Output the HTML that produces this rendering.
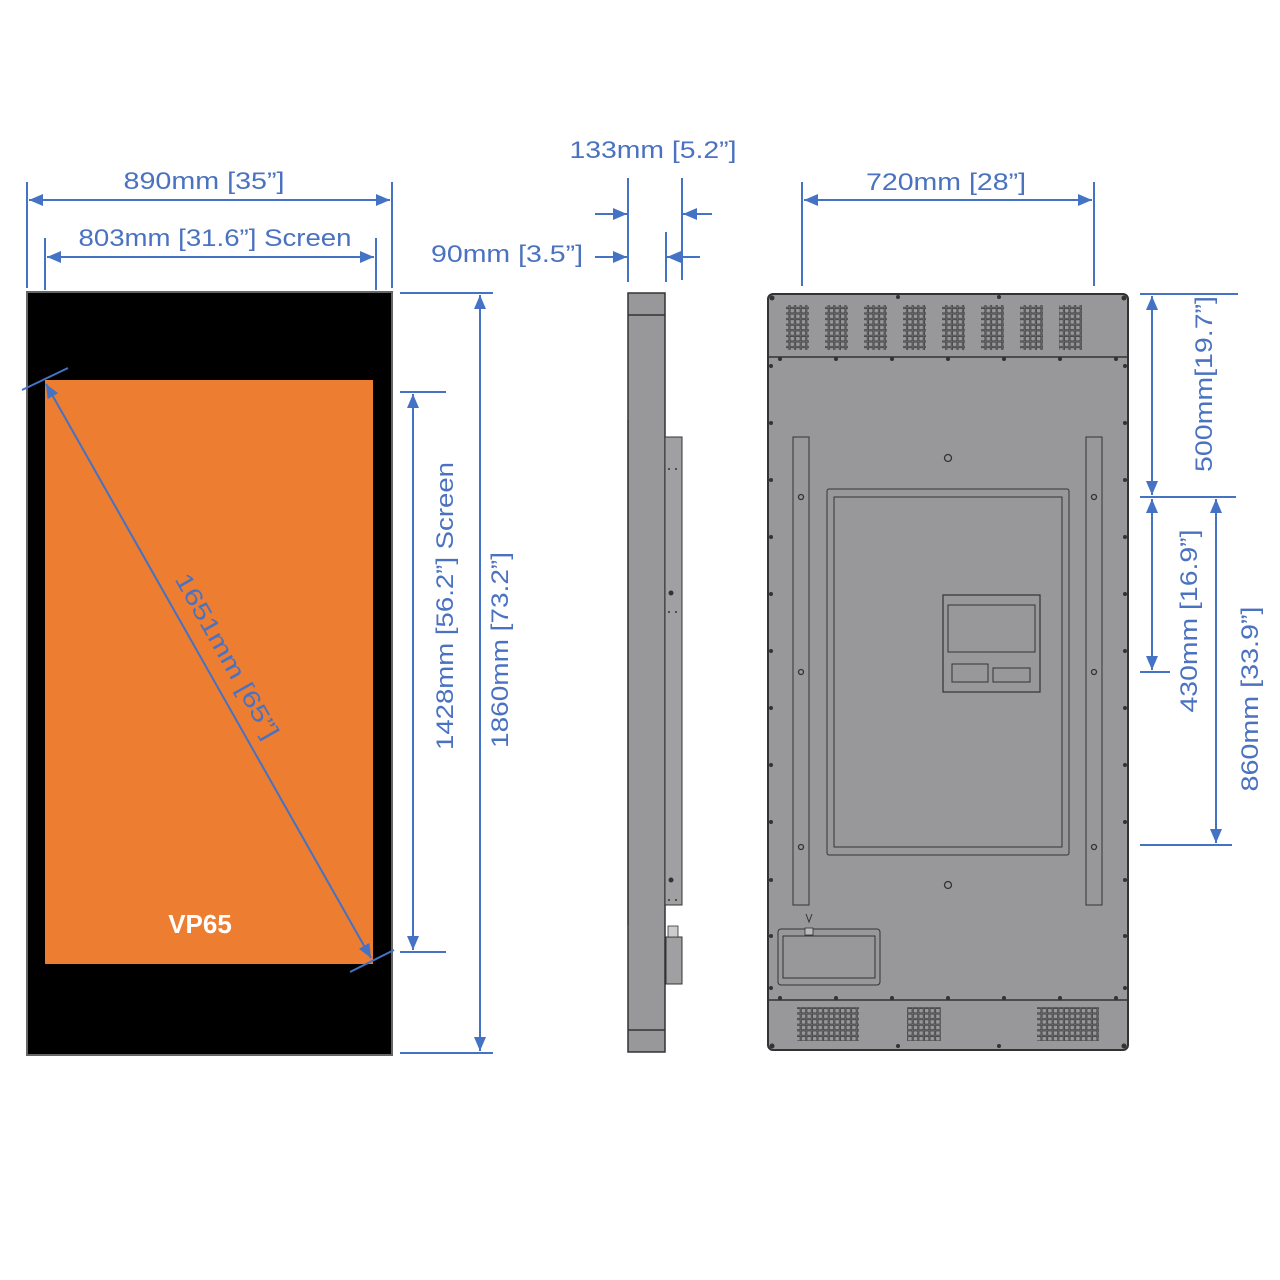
<!DOCTYPE html>
<html><head><meta charset="utf-8"><style>
html,body{margin:0;padding:0;background:#fff;}
svg{display:block;}
text{font-family:"Liberation Sans",sans-serif;fill:#4a72c0;font-size:24px;}
</style></head><body>
<svg width="1280" height="1280" viewBox="0 0 1280 1280" xmlns="http://www.w3.org/2000/svg">
<defs>
<marker id="ae" viewBox="0 0 14 12" refX="14" refY="6" markerWidth="14" markerHeight="12" markerUnits="userSpaceOnUse" orient="auto"><path d="M0,0L14,6L0,12z" fill="#4472c4"/></marker>
<marker id="as" viewBox="0 0 14 12" refX="0" refY="6" markerWidth="14" markerHeight="12" markerUnits="userSpaceOnUse" orient="auto"><path d="M14,0L0,6L14,12z" fill="#4472c4"/></marker>
<pattern id="vent" x="0" y="0" width="5.6" height="5.6" patternUnits="userSpaceOnUse"><rect x="0.5" y="0.5" width="4.4" height="4.4" fill="none" stroke="#444" stroke-width="0.9"/></pattern>
</defs>

<!-- FRONT VIEW -->
<rect x="27" y="292" width="365" height="763" fill="#000" stroke="#666" stroke-width="2"/>
<rect x="45" y="380" width="328" height="584" fill="#ed7d31"/>
<text x="200" y="933" text-anchor="middle" style="fill:#fff;font-weight:bold;font-size:26px">VP65</text>

<g stroke="#4472c4" stroke-width="2" fill="none">
<!-- 890 -->
<line x1="27" y1="182" x2="27" y2="288"/><line x1="392" y1="182" x2="392" y2="288"/>
<line x1="29" y1="200" x2="390" y2="200" marker-start="url(#as)" marker-end="url(#ae)"/>
<!-- 803 -->
<line x1="45" y1="238" x2="45" y2="290"/><line x1="376" y1="238" x2="376" y2="290"/>
<line x1="47" y1="257" x2="374" y2="257" marker-start="url(#as)" marker-end="url(#ae)"/>
<!-- 1860 -->
<line x1="400" y1="293" x2="493" y2="293"/><line x1="400" y1="1053" x2="493" y2="1053"/>
<line x1="480" y1="295" x2="480" y2="1051" marker-start="url(#as)" marker-end="url(#ae)"/>
<!-- 1428 -->
<line x1="400" y1="392" x2="446" y2="392"/><line x1="400" y1="952" x2="446" y2="952"/>
<line x1="413" y1="394" x2="413" y2="950" marker-start="url(#as)" marker-end="url(#ae)"/>
<!-- diagonal -->
<line x1="22" y1="390" x2="68" y2="368"/><line x1="350" y1="972" x2="394" y2="950"/>
<line x1="46" y1="384" x2="371" y2="958" marker-start="url(#as)" marker-end="url(#ae)"/>
<!-- side dims -->
<line x1="628" y1="178" x2="628" y2="282"/><line x1="682" y1="178" x2="682" y2="280"/><line x1="666" y1="232" x2="666" y2="282"/>
<line x1="595" y1="214" x2="627" y2="214" marker-end="url(#ae)"/>
<line x1="712" y1="214" x2="683" y2="214" marker-end="url(#ae)"/>
<line x1="595" y1="257" x2="627" y2="257" marker-end="url(#ae)"/>
<line x1="700" y1="257" x2="667" y2="257" marker-end="url(#ae)"/>
<!-- 720 -->
<line x1="802" y1="182" x2="802" y2="286"/><line x1="1094" y1="182" x2="1094" y2="286"/>
<line x1="804" y1="200" x2="1092" y2="200" marker-start="url(#as)" marker-end="url(#ae)"/>
<!-- right dims -->
<line x1="1140" y1="294" x2="1238" y2="294"/><line x1="1140" y1="497" x2="1236" y2="497"/>
<line x1="1140" y1="672" x2="1170" y2="672"/><line x1="1140" y1="845" x2="1232" y2="845"/>
<line x1="1152" y1="296" x2="1152" y2="495" marker-start="url(#as)" marker-end="url(#ae)"/>
<line x1="1152" y1="499" x2="1152" y2="670" marker-start="url(#as)" marker-end="url(#ae)"/>
<line x1="1216" y1="499" x2="1216" y2="843" marker-start="url(#as)" marker-end="url(#ae)"/>
</g>

<text x="204" y="189" text-anchor="middle" textLength="161" lengthAdjust="spacingAndGlyphs">890mm [35”]</text>
<text x="215" y="246" text-anchor="middle" textLength="273" lengthAdjust="spacingAndGlyphs">803mm [31.6”] Screen</text>
<text x="653" y="158" text-anchor="middle" textLength="167" lengthAdjust="spacingAndGlyphs">133mm [5.2”]</text>
<text x="507" y="262" text-anchor="middle" textLength="152" lengthAdjust="spacingAndGlyphs">90mm [3.5”]</text>
<text x="946" y="190" text-anchor="middle" textLength="160" lengthAdjust="spacingAndGlyphs">720mm [28”]</text>
<text transform="translate(508,650) rotate(-90)" text-anchor="middle" textLength="196" lengthAdjust="spacingAndGlyphs">1860mm [73.2”]</text>
<text transform="translate(453,606) rotate(-90)" text-anchor="middle" textLength="288" lengthAdjust="spacingAndGlyphs">1428mm [56.2”] Screen</text>
<text transform="translate(1212,384) rotate(-90)" text-anchor="middle" textLength="176" lengthAdjust="spacingAndGlyphs">500mm[19.7”]</text>
<text transform="translate(1197,621) rotate(-90)" text-anchor="middle" textLength="183" lengthAdjust="spacingAndGlyphs">430mm [16.9”]</text>
<text transform="translate(1258,699) rotate(-90)" text-anchor="middle" textLength="185" lengthAdjust="spacingAndGlyphs">860mm [33.9”]</text>
<text transform="translate(220,660) rotate(60.5)" text-anchor="middle" textLength="186" lengthAdjust="spacingAndGlyphs">1651mm [65”]</text>

<!-- SIDE VIEW -->
<g stroke="#333" stroke-width="1.5" fill="#98989b">
<rect x="628" y="293" width="37" height="759"/>
<line x1="628" y1="315" x2="665" y2="315"/>
<line x1="628" y1="1030" x2="665" y2="1030"/>
<rect x="665" y="437" width="17" height="468" fill="#a0a0a3" stroke-width="1"/>
<rect x="666" y="937" width="16" height="47" fill="#a0a0a3" stroke-width="1"/>
<rect x="668" y="926" width="10" height="11" fill="#ccc" stroke-width="0.8"/>
</g>
<line x1="628" y1="420" x2="628" y2="925" stroke="#222" stroke-width="1"/>
<g fill="#333"><circle cx="671" cy="593" r="2.5"/><circle cx="671" cy="880" r="2.5"/><circle cx="669" cy="469" r="1"/><circle cx="676" cy="469" r="1"/><circle cx="669" cy="612" r="1"/><circle cx="676" cy="612" r="1"/><circle cx="669" cy="900" r="1"/><circle cx="676" cy="900" r="1"/></g>

<!-- BACK VIEW -->
<g stroke="#333" fill="#98989b">
<rect x="768" y="294" width="360" height="756" rx="5" stroke-width="2"/>
<path d="M768,357 H1128 M768,1000 H1128" stroke-width="1.5" fill="none"/>
<rect x="793" y="437" width="16" height="468" stroke-width="1"/>
<rect x="1086" y="437" width="16" height="468" stroke-width="1"/>
<rect x="827" y="489" width="242" height="366" rx="2" stroke-width="1"/>
<rect x="834" y="497" width="228" height="350" stroke-width="1"/>
<rect x="943" y="595" width="97" height="97" stroke-width="1.2"/>
<rect x="948" y="605" width="87" height="47" stroke-width="1"/>
<rect x="952" y="664" width="36" height="18" stroke-width="1"/>
<rect x="993" y="668" width="37" height="14" stroke-width="1"/>
<rect x="778" y="929" width="102" height="56" rx="3" stroke-width="1"/>
<rect x="783" y="936" width="92" height="42" stroke-width="1"/>
<rect x="805" y="928" width="8" height="7" fill="#bbb" stroke-width="0.8"/>
</g>
<path d="M806,914 L809,922 L812,914" stroke="#333" fill="none"/>
<g fill="url(#vent)">
<rect x="786" y="305" width="23" height="45"/><rect x="825" y="305" width="23" height="45"/><rect x="864" y="305" width="23" height="45"/><rect x="903" y="305" width="23" height="45"/><rect x="942" y="305" width="23" height="45"/><rect x="981" y="305" width="23" height="45"/><rect x="1020" y="305" width="23" height="45"/><rect x="1059" y="305" width="23" height="45"/>
<rect x="797" y="1007" width="62" height="34"/><rect x="907" y="1007" width="34" height="34"/><rect x="1037" y="1007" width="62" height="34"/>
</g>
<g fill="#333">
<circle cx="772" cy="298" r="2.5"/><circle cx="1124" cy="298" r="2.5"/><circle cx="898" cy="297" r="2"/><circle cx="999" cy="297" r="2"/>
<circle cx="772" cy="1046" r="2.5"/><circle cx="1124" cy="1046" r="2.5"/><circle cx="898" cy="1046" r="2"/><circle cx="999" cy="1046" r="2"/>
<circle cx="780" cy="359" r="2"/><circle cx="836" cy="359" r="2"/><circle cx="892" cy="359" r="2"/><circle cx="948" cy="359" r="2"/><circle cx="1004" cy="359" r="2"/><circle cx="1060" cy="359" r="2"/><circle cx="1116" cy="359" r="2"/>
<circle cx="780" cy="998" r="2"/><circle cx="836" cy="998" r="2"/><circle cx="892" cy="998" r="2"/><circle cx="948" cy="998" r="2"/><circle cx="1004" cy="998" r="2"/><circle cx="1060" cy="998" r="2"/><circle cx="1116" cy="998" r="2"/>
<circle cx="771" cy="366" r="2"/><circle cx="771" cy="423" r="2"/><circle cx="771" cy="480" r="2"/><circle cx="771" cy="537" r="2"/><circle cx="771" cy="594" r="2"/><circle cx="771" cy="651" r="2"/><circle cx="771" cy="708" r="2"/><circle cx="771" cy="765" r="2"/><circle cx="771" cy="822" r="2"/><circle cx="771" cy="880" r="2"/><circle cx="771" cy="936" r="2"/><circle cx="771" cy="988" r="2"/>
<circle cx="1125" cy="366" r="2"/><circle cx="1125" cy="423" r="2"/><circle cx="1125" cy="480" r="2"/><circle cx="1125" cy="537" r="2"/><circle cx="1125" cy="594" r="2"/><circle cx="1125" cy="651" r="2"/><circle cx="1125" cy="708" r="2"/><circle cx="1125" cy="765" r="2"/><circle cx="1125" cy="822" r="2"/><circle cx="1125" cy="880" r="2"/><circle cx="1125" cy="936" r="2"/><circle cx="1125" cy="988" r="2"/>
</g>
<g fill="none" stroke="#333" stroke-width="1.3">
<circle cx="948" cy="458" r="3.5"/><circle cx="948" cy="885" r="3.5"/>
<circle cx="801" cy="497" r="2.5"/><circle cx="801" cy="672" r="2.5"/><circle cx="801" cy="847" r="2.5"/>
<circle cx="1094" cy="497" r="2.5"/><circle cx="1094" cy="672" r="2.5"/><circle cx="1094" cy="847" r="2.5"/>
</g>
</svg>
</body></html>
